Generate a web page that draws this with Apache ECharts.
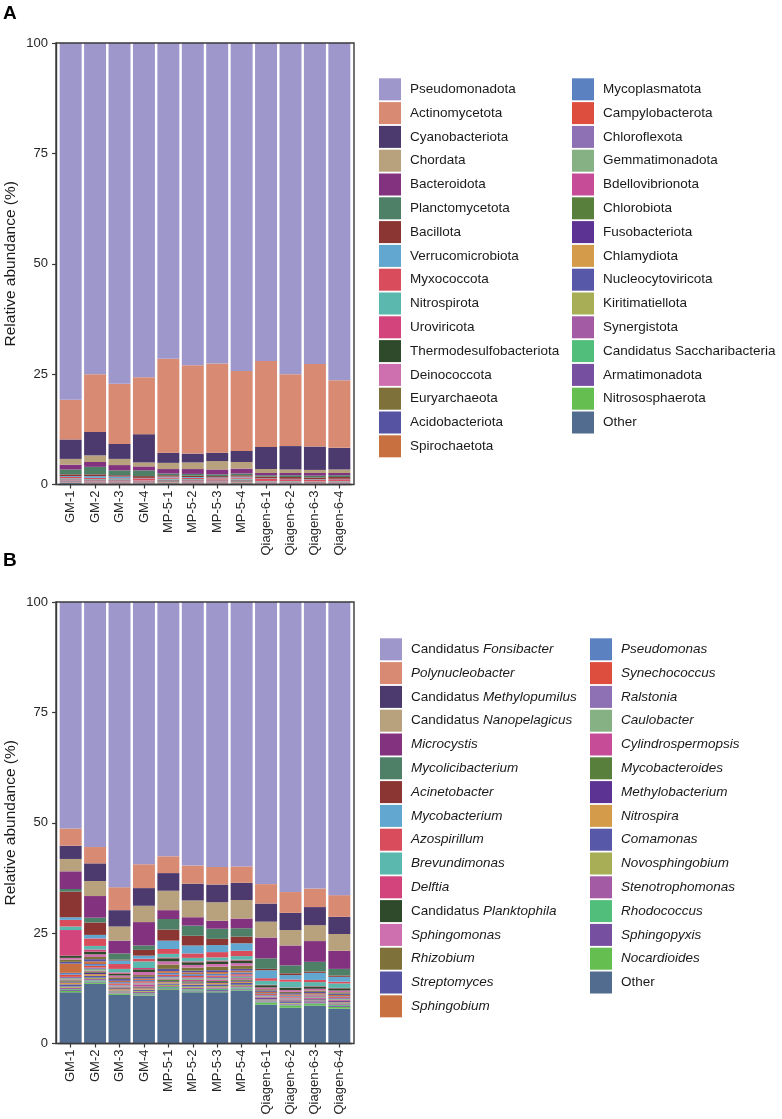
<!DOCTYPE html>
<html>
<head>
<meta charset="utf-8">
<script src="https://cdn.jsdelivr.net/npm/echarts@6/dist/echarts.min.js"></script>
<style>html,body{margin:0;padding:0;background:#fff}#c{width:782px;height:1119px}</style>
</head>
<body>
<div id="c"></div>
<script>
// ---------- categories ----------
const samples = ['GM-1','GM-2','GM-3','GM-4','MP-5-1','MP-5-2','MP-5-3','MP-5-4','Qiagen-6-1','Qiagen-6-2','Qiagen-6-3','Qiagen-6-4'];
const yTicks = [0, 25, 50, 75, 100];

const phyla = ['Pseudomonadota','Actinomycetota','Cyanobacteriota','Chordata','Bacteroidota','Planctomycetota','Bacillota','Verrucomicrobiota','Myxococcota','Nitrospirota','Uroviricota','Thermodesulfobacteriota','Deinococcota','Euryarchaeota','Acidobacteriota','Spirochaetota','Mycoplasmatota','Campylobacterota','Chloroflexota','Gemmatimonadota','Bdellovibrionota','Chlorobiota','Fusobacteriota','Chlamydiota','Nucleocytoviricota','Kiritimatiellota','Synergistota','Candidatus Saccharibacteria','Armatimonadota','Nitrososphaerota','Other'];

const genera = ['Candidatus Fonsibacter','Polynucleobacter','Candidatus Methylopumilus','Candidatus Nanopelagicus','Microcystis','Mycolicibacterium','Acinetobacter','Mycobacterium','Azospirillum','Brevundimonas','Delftia','Candidatus Planktophila','Sphingomonas','Rhizobium','Streptomyces','Sphingobium','Pseudomonas','Synechococcus','Ralstonia','Caulobacter','Cylindrospermopsis','Mycobacteroides','Methylobacterium','Nitrospira','Comamonas','Novosphingobium','Stenotrophomonas','Rhodococcus','Sphingopyxis','Nocardioides','Other'];

const palette = ['#9E97CC','#D88A73','#4C3A6E','#B8A27E','#82327E','#4E7F67','#8B3632','#62A7CF','#D94C5C','#5BB8AE','#D3447D','#2F4A2A','#CE6FAF','#7E7139','#5753A3','#C8703F','#5B81C0','#DE4E3E','#8E70B4','#85B184','#C64C98','#587F3B','#5C3392','#D39B4A','#5759A8','#A7AE55','#A35CA3','#52BE7B','#774FA0','#64BE50','#526C8F'];

// ---------- panel A: phylum relative abundance (%) per sample, legend order ----------
const phylumGM1  = [80.8, 9.0, 4.4, 1.3, 1.1, 1.1, 0.4, 0.2, 0.3, 0.2, 0.1, 0.1, 0.1, 0.1, 0.1, 0.1, 0.05, 0.05, 0.02, 0.02, 0.02, 0.02, 0.02, 0.02, 0.02, 0.01, 0.01, 0.02, 0.01, 0.01, 0.3];
const phylumGM2  = [75.0, 13.1, 5.3, 1.5, 1.1, 1.7, 0.4, 0.4, 0.3, 0.2, 0.1, 0.1, 0.1, 0.1, 0.1, 0.1, 0.05, 0.05, 0.02, 0.02, 0.02, 0.02, 0.02, 0.02, 0.02, 0.01, 0.01, 0.02, 0.01, 0.01, 0.1];
const phylumGM3  = [77.2, 13.6, 3.4, 1.4, 1.2, 1.1, 0.3, 0.4, 0.2, 0.2, 0.1, 0.1, 0.1, 0.1, 0.1, 0.1, 0.05, 0.05, 0.02, 0.02, 0.02, 0.02, 0.02, 0.02, 0.02, 0.01, 0.01, 0.02, 0.01, 0.01, 0.1];
const phylumGM4  = [75.7, 12.9, 6.4, 0.9, 0.9, 1.3, 0.4, 0.1, 0.5, 0.1, 0.1, 0.05, 0.05, 0.05, 0.05, 0.05, 0.05, 0.05, 0.02, 0.02, 0.02, 0.02, 0.02, 0.02, 0.02, 0.01, 0.01, 0.02, 0.01, 0.01, 0.15];
const phylumMP51 = [71.5, 21.3, 2.3, 1.4, 1.0, 0.4, 0.3, 0.2, 0.3, 0.2, 0.1, 0.1, 0.1, 0.1, 0.1, 0.1, 0.05, 0.05, 0.02, 0.02, 0.02, 0.02, 0.02, 0.02, 0.02, 0.01, 0.01, 0.02, 0.01, 0.01, 0.2];
const phylumMP52 = [73.0, 20.0, 2.0, 1.5, 1.1, 0.4, 0.3, 0.2, 0.3, 0.2, 0.1, 0.1, 0.1, 0.1, 0.1, 0.1, 0.05, 0.05, 0.02, 0.02, 0.02, 0.02, 0.02, 0.02, 0.02, 0.01, 0.01, 0.02, 0.01, 0.01, 0.1];
const phylumMP53 = [72.6, 20.2, 1.9, 1.9, 1.1, 0.4, 0.3, 0.2, 0.3, 0.1, 0.1, 0.1, 0.1, 0.1, 0.1, 0.1, 0.05, 0.05, 0.02, 0.02, 0.02, 0.02, 0.02, 0.02, 0.02, 0.01, 0.01, 0.02, 0.01, 0.01, 0.1];
const phylumMP54 = [74.3, 18.1, 2.5, 1.5, 1.1, 0.4, 0.3, 0.2, 0.3, 0.2, 0.1, 0.1, 0.1, 0.1, 0.1, 0.1, 0.05, 0.05, 0.02, 0.02, 0.02, 0.02, 0.02, 0.02, 0.02, 0.01, 0.01, 0.02, 0.01, 0.01, 0.2];
const phylumQ61  = [72.0, 19.5, 5.0, 0.9, 0.5, 0.3, 0.4, 0.1, 0.5, 0.1, 0.1, 0.05, 0.05, 0.05, 0.05, 0.05, 0.05, 0.05, 0.02, 0.02, 0.02, 0.02, 0.02, 0.02, 0.02, 0.01, 0.01, 0.02, 0.01, 0.01, 0.05];
const phylumQ62  = [75.0, 16.3, 5.3, 0.8, 0.5, 0.4, 0.4, 0.1, 0.4, 0.1, 0.1, 0.05, 0.05, 0.05, 0.05, 0.05, 0.05, 0.05, 0.02, 0.02, 0.02, 0.02, 0.02, 0.02, 0.02, 0.01, 0.01, 0.02, 0.01, 0.01, 0.05];
const phylumQ63  = [72.7, 18.7, 5.3, 0.7, 0.6, 0.4, 0.4, 0.1, 0.4, 0.1, 0.05, 0.05, 0.05, 0.05, 0.05, 0.05, 0.05, 0.05, 0.02, 0.02, 0.02, 0.02, 0.02, 0.02, 0.02, 0.01, 0.01, 0.02, 0.01, 0.01, 0.0];
const phylumQ64  = [76.4, 15.3, 4.9, 0.8, 0.5, 0.4, 0.4, 0.1, 0.4, 0.1, 0.1, 0.05, 0.05, 0.05, 0.05, 0.05, 0.05, 0.05, 0.02, 0.02, 0.02, 0.02, 0.02, 0.02, 0.02, 0.01, 0.01, 0.02, 0.01, 0.01, 0.05];

// ---------- panel B: genus relative abundance (%) per sample, legend order ----------
const genusGM1  = [51.3, 3.9, 3.0, 2.8, 4.0, 0.6, 5.8, 0.6, 1.5, 0.8, 5.8, 0.5, 0.4, 0.5, 0.4, 2.1, 0.4, 0.5, 0.3, 0.3, 0.2, 0.3, 0.2, 0.4, 0.5, 0.3, 0.3, 0.2, 0.2, 0.3, 11.6];
const genusGM2  = [55.5, 3.7, 4.0, 3.4, 4.9, 1.1, 2.8, 0.8, 1.7, 0.8, 0.5, 0.6, 0.6, 0.5, 0.5, 0.6, 0.4, 0.4, 0.3, 0.4, 0.2, 0.3, 0.3, 0.4, 0.4, 0.3, 0.3, 0.3, 0.2, 0.3, 13.5];
const genusGM3  = [64.6, 5.2, 3.7, 3.2, 2.9, 1.4, 0.2, 0.8, 1.1, 0.8, 0.3, 0.4, 0.4, 0.4, 0.4, 0.3, 0.3, 0.3, 0.2, 0.2, 0.2, 0.2, 0.2, 0.3, 0.2, 0.2, 0.2, 0.1, 0.1, 0.2, 11.0];
const genusGM4  = [59.4, 5.4, 4.0, 3.7, 5.3, 1.0, 1.3, 0.7, 0.6, 1.5, 0.3, 0.6, 0.7, 0.4, 0.4, 0.3, 0.3, 0.3, 0.2, 0.2, 0.5, 0.2, 0.2, 0.3, 0.3, 0.2, 0.3, 0.2, 0.1, 0.2, 10.9];
const genusMP51 = [57.6, 3.8, 4.0, 4.4, 2.0, 2.4, 2.5, 1.9, 1.1, 0.8, 0.2, 0.7, 0.7, 1.0, 0.5, 0.4, 0.4, 0.3, 0.3, 0.3, 0.2, 0.4, 0.2, 0.3, 0.3, 0.3, 0.2, 0.3, 0.2, 0.2, 12.1];
const genusMP52 = [59.7, 4.1, 3.8, 3.8, 1.9, 2.3, 2.2, 1.8, 1.0, 0.8, 0.2, 0.6, 0.6, 0.7, 0.4, 0.4, 0.4, 0.3, 0.3, 0.3, 0.3, 0.3, 0.2, 0.3, 0.4, 0.3, 0.3, 0.3, 0.2, 0.2, 11.6];
const genusMP53 = [60.0, 4.0, 4.0, 4.2, 1.8, 2.3, 1.4, 1.6, 1.2, 0.7, 0.2, 0.6, 0.6, 0.8, 0.4, 0.4, 0.4, 0.3, 0.3, 0.3, 0.3, 0.3, 0.2, 0.3, 0.4, 0.3, 0.3, 0.3, 0.3, 0.2, 11.6];
const genusMP54 = [59.9, 3.7, 3.9, 4.2, 2.2, 1.9, 1.5, 1.7, 1.2, 0.8, 0.2, 0.6, 0.6, 0.7, 0.4, 0.4, 0.4, 0.3, 0.3, 0.3, 0.3, 0.3, 0.2, 0.3, 0.4, 0.3, 0.3, 0.3, 0.2, 0.2, 12.0];
const genusQ61  = [63.9, 4.4, 4.1, 3.6, 4.7, 2.4, 0.3, 1.8, 0.6, 0.9, 0.1, 0.5, 0.4, 0.3, 0.3, 0.3, 0.2, 0.2, 0.2, 0.2, 0.2, 0.1, 0.2, 0.1, 0.2, 0.1, 0.2, 0.2, 0.1, 0.4, 8.8];
const genusQ62  = [65.7, 4.7, 3.9, 3.5, 4.5, 1.8, 0.4, 1.0, 0.5, 1.3, 0.1, 0.5, 0.4, 0.3, 0.3, 0.3, 0.2, 0.2, 0.2, 0.2, 0.2, 0.1, 0.2, 0.1, 0.2, 0.2, 0.2, 0.2, 0.1, 0.4, 8.1];
const genusQ63  = [64.9, 4.2, 4.1, 3.6, 4.7, 2.2, 0.3, 1.6, 0.5, 0.9, 0.1, 0.5, 0.4, 0.3, 0.3, 0.3, 0.2, 0.2, 0.2, 0.2, 0.2, 0.1, 0.2, 0.1, 0.2, 0.1, 0.2, 0.1, 0.1, 0.4, 8.6];
const genusQ64  = [66.4, 4.9, 3.9, 3.8, 4.1, 1.5, 0.3, 1.1, 0.4, 1.0, 0.1, 0.5, 0.4, 0.3, 0.3, 0.3, 0.2, 0.2, 0.2, 0.2, 0.2, 0.1, 0.2, 0.1, 0.2, 0.2, 0.2, 0.2, 0.2, 0.4, 7.9];

const phylumRows = [phylumGM1, phylumGM2, phylumGM3, phylumGM4, phylumMP51, phylumMP52, phylumMP53, phylumMP54, phylumQ61, phylumQ62, phylumQ63, phylumQ64];
const genusRows  = [genusGM1, genusGM2, genusGM3, genusGM4, genusMP51, genusMP52, genusMP53, genusMP54, genusQ61, genusQ62, genusQ63, genusQ64];

// ---------- layout ----------
const FONT = '"Liberation Sans", Arial, Helvetica, sans-serif';
const boxLeft = 56, boxWidth = 298, boxH = 441.5;
const panelTops = [43, 602];
const pitch = boxWidth / 12.2;
const gridLeft = boxLeft + 0.1 * pitch;
const gridWidth = 12 * pitch;
const AXC = '#3a3a3a';
const LEG_FS = 13.5;

function buildSeries(names, rows, gi) {
  const out = [];
  for (let k = names.length - 1; k >= 0; k--) {
    out.push({
      name: names[k], type: 'bar', stack: 'panel' + gi,
      xAxisIndex: gi, yAxisIndex: gi, barWidth: '90%',
      itemStyle: { color: palette[k] },
      emphasis: { disabled: true },
      data: rows.map(r => r[k])
    });
  }
  return out;
}

function xAxisCfg(gi) {
  return {
    gridIndex: gi, type: 'category', data: samples,
    axisLine: { show: true, lineStyle: { color: AXC, width: 1.4 } },
    axisTick: { show: true, alignWithLabel: true, length: 4, lineStyle: { color: AXC, width: 1.2 } },
    axisLabel: { rotate: 90, fontSize: 13, color: '#262626', fontFamily: FONT, margin: 6 }
  };
}
function yAxisCfg(gi) {
  return {
    gridIndex: gi, type: 'value', min: yTicks[0], max: yTicks[yTicks.length - 1], interval: 25,
    offset: gridLeft - boxLeft,
    name: 'Relative abundance (%)', nameLocation: 'middle', nameGap: 37, nameRotate: 90,
    nameTextStyle: { fontSize: 15.5, color: '#1a1a1a', fontFamily: FONT },
    axisLine: { show: true, lineStyle: { color: AXC, width: 1.4 } },
    axisTick: { show: true, length: 4, lineStyle: { color: AXC, width: 1.2 } },
    axisLabel: { fontSize: 13, color: '#262626', fontFamily: FONT, margin: 8 },
    splitLine: { show: false }
  };
}

function genusFmt(name) {
  if (name === 'Other') return '{n|Other}';
  if (name.indexOf('Candidatus ') === 0) return '{n|Candidatus }{i|' + name.slice(11) + '}';
  return '{i|' + name + '}';
}
function legendCfg(names, left, top, italicFmt) {
  const cfg = {
    orient: 'vertical', left: left, top: top, padding: 0,
    itemWidth: 22, itemHeight: 22, itemGap: 1.8, icon: 'rect',
    selectedMode: false, data: names,
    textStyle: {
      fontSize: LEG_FS, color: '#1a1a1a', fontFamily: FONT, padding: [0, 0, 0, 4],
      rich: {
        n: { fontSize: LEG_FS, color: '#1a1a1a', fontFamily: FONT, fontStyle: 'normal' },
        i: { fontSize: LEG_FS, color: '#1a1a1a', fontFamily: FONT, fontStyle: 'italic' }
      }
    }
  };
  if (italicFmt) cfg.formatter = genusFmt;
  return cfg;
}

const graphics = [];
panelTops.forEach(t => {
  graphics.push({
    type: 'rect', silent: true, z: 100,
    shape: { x: boxLeft, y: t, width: boxWidth, height: boxH },
    style: { fill: 'none', stroke: AXC, lineWidth: 1.4 }
  });
});
graphics.push({ type: 'text', left: 3, top: 4, style: { text: 'A', font: 'bold 19px ' + FONT, fill: '#000' } });
graphics.push({ type: 'text', left: 3, top: 551, style: { text: 'B', font: 'bold 19px ' + FONT, fill: '#000' } });

const option = {
  animation: false,
  backgroundColor: '#fff',
  grid: panelTops.map(t => ({ left: gridLeft, top: t, width: gridWidth, height: boxH, containLabel: false })),
  xAxis: [xAxisCfg(0), xAxisCfg(1)],
  yAxis: [yAxisCfg(0), yAxisCfg(1)],
  legend: [
    legendCfg(phyla.slice(0, 16), 379, 78.3, false),
    legendCfg(phyla.slice(16), 572, 78.3, false),
    legendCfg(genera.slice(0, 16), 380, 638.3, true),
    legendCfg(genera.slice(16), 590, 638.3, true)
  ],
  graphic: graphics,
  series: buildSeries(phyla, phylumRows, 0).concat(buildSeries(genera, genusRows, 1))
};

const chart = echarts.init(document.getElementById('c'));
chart.setOption(option);
</script>
</body>
</html>
